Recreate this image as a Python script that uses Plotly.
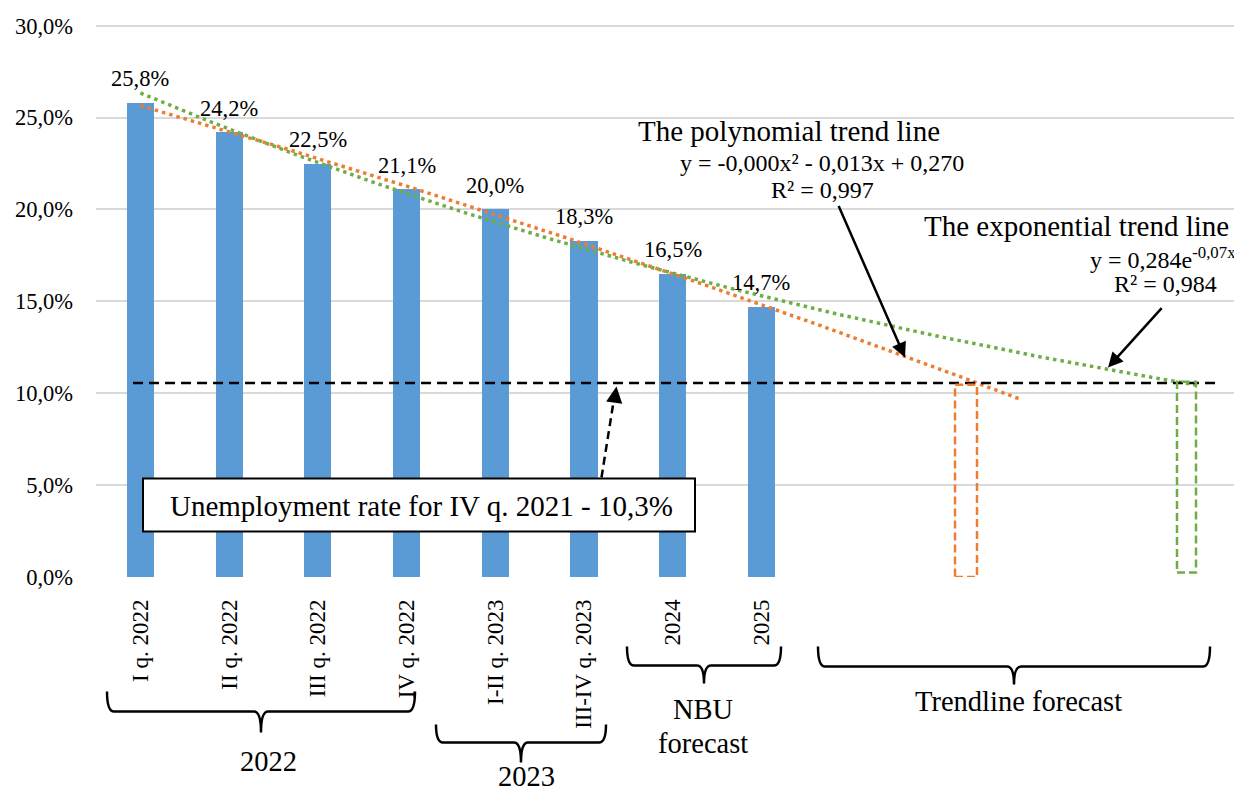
import numpy as np
import plotly.graph_objects as go

# ---------------- data ----------------
categories = ["I q. 2022", "II q. 2022", "III q. 2022", "IV q. 2022",
              "I-II q. 2023", "III-IV q. 2023", "2024", "2025"]
unemployment = [25.8, 24.2, 22.5, 21.1, 20.0, 18.3, 16.5, 14.7]
y_ticks = [0, 5, 10, 15, 20, 25, 30]
y_tick_labels = ["0,0%", "5,0%", "10,0%", "15,0%", "20,0%", "25,0%", "30,0%"]

baseline_level = 10.55          # dashed reference line (IV q. 2021 level as drawn)
poly_end_x = 10.94               # Excel x where polynomial trendline forecast ends
exp_end_x = 12.93                # Excel x where exponential trendline forecast ends
forecast_pos = [9.305, 11.79]    # dashed forecast bars (category index units)
forecast_top = [10.46, 10.62]
forecast_bottom = [0.0, 0.24]
forecast_width = [0.248, 0.214]
forecast_colors = ["#ED7D31", "#70AD47"]

FONT = "Liberation Serif"
BLUE, ORANGE, GREEN = "#5B9BD5", "#ED7D31", "#70AD47"

# ---------------- geometry helpers (screen pixel -> paper) ----------------
OFF = 8                      # page body margin
Y_MAX = 30.2
L, R, B = 96, 1240, 577.5
PX_PER_UNIT = (577.5 - 26) / 30
T = B - Y_MAX * PX_PER_UNIT
SW, SH = 1242, 794
W, H = SW - OFF, SH - OFF


def px(x):
    return (x - L) / (R - L)


def py(y):
    return (B - y) / (B - T)


def fmt(v):
    return f"{v:.1f}".replace(".", ",") + "%"


fig = go.Figure()

idx = list(range(len(categories)))
fig.add_trace(go.Bar(x=idx, y=unemployment, width=0.305, marker_color=BLUE,
                     marker_line_width=0, showlegend=False, hoverinfo="skip"))

# trendlines (fitted like Excel: x = 1..n)
xs = np.arange(1, len(unemployment) + 1)
vals = np.array(unemployment)
pc = np.polyfit(xs, vals, 2)
xp = np.linspace(1, poly_end_x, 200)
fig.add_trace(go.Scatter(x=xp - 1, y=np.polyval(pc, xp), mode="lines",
                         line=dict(color=ORANGE, width=3.5, dash="3.5px,4px"),
                         showlegend=False, hoverinfo="skip"))
ec = np.polyfit(xs, np.log(vals), 1)
xe = np.linspace(1, exp_end_x, 200)
fig.add_trace(go.Scatter(x=xe - 1, y=np.exp(np.polyval(ec, xe)), mode="lines",
                         line=dict(color=GREEN, width=3.5, dash="3.5px,4px"),
                         showlegend=False, hoverinfo="skip"))

shapes = []
annotations = []

# data labels
for i, v in enumerate(unemployment):
    annotations.append(dict(x=i, y=v, xref="x", yref="y", text=fmt(v), showarrow=False,
                            xanchor="center", yanchor="middle",
                            yshift=24, font=dict(family=FONT, size=22.5, color="black")))

# dashed horizontal reference line
shapes.append(dict(type="line", xref="x", yref="y", x0=-0.083, x1=12.145,
                   y0=baseline_level, y1=baseline_level,
                   line=dict(color="black", width=2.5, dash="10px,6px")))

# dashed forecast bars
for p, t, b, w, c in zip(forecast_pos, forecast_top, forecast_bottom, forecast_width, forecast_colors):
    shapes.append(dict(type="rect", xref="x", yref="y", x0=p - w / 2, x1=p + w / 2, y0=b, y1=t,
                       line=dict(color=c, width=2.5, dash="8px,4px"), fillcolor="rgba(0,0,0,0)"))

# unemployment box
shapes.append(dict(type="rect", xref="paper", yref="paper", x0=px(143), x1=px(695),
                   y0=py(532), y1=py(479), line=dict(color="black", width=2), fillcolor="white",
                   layer="above"))
annotations.append(dict(x=px(421), y=py(506), text="Unemployment rate for IV q. 2021 - 10,3%",
                        size=29, anchor="center"))
# trendline captions
annotations += [
    dict(x=px(789), y=py(131), text="The polynomial trend line", size=29, anchor="center"),
    dict(x=px(822), y=py(163), text="y = -0,000x² - 0,013x + 0,270", size=24, anchor="center"),
    dict(x=px(822), y=py(190), text="R² = 0,997", size=24, anchor="center"),
    dict(x=px(1076), y=py(226), text="The exponential trend line", size=29, anchor="center"),
    dict(x=px(1238), y=py(258), text="y = 0,284e<sup>-0,07x</sup>", size=24, anchor="right"),
    dict(x=px(1165), y=py(284), text="R² = 0,984", size=24, anchor="center"),
]
for a in annotations[-7:]:
    a.update(xref="paper", yref="paper", showarrow=False, xanchor=a.pop("anchor"),
             yanchor="middle", font=dict(family=FONT, size=a.pop("size"), color="black"))

# dashed arrow to reference line
shapes.append(dict(type="line", xref="paper", yref="paper", x0=px(601.5), y0=py(478),
                   x1=px(614.5), y1=py(396), line=dict(color="black", width=2.5, dash="8px,5px")))
annotations.append(dict(x=px(616.5), y=py(387), xref="paper", yref="paper", ax=-2, ay=14,
                        text="", showarrow=True,
                        arrowhead=2, arrowsize=1.3, arrowwidth=2.5, arrowcolor="black"))

# solid arrows
annotations.append(dict(x=px(905), y=py(358), xref="paper", yref="paper", ax=-67, ay=-153,
                        text="", showarrow=True, arrowhead=2, arrowsize=1.2, arrowwidth=2.5,
                        arrowcolor="black"))
annotations.append(dict(x=px(1108), y=py(368), xref="paper", yref="paper", ax=55, ay=-61,
                        text="", showarrow=True, arrowhead=2, arrowsize=1.2, arrowwidth=2.5,
                        arrowcolor="black"))


# brackets
def bracket(x0, x1, ytop, yh, ytip, r=7):
    xm = (x0 + x1) / 2
    pts = [("M", x0, ytop), ("Q", x0, yh, x0 + r, yh), ("L", xm - r, yh),
           ("Q", xm, yh, xm, ytip), ("Q", xm, yh, xm + r, yh), ("L", x1 - r, yh),
           ("Q", x1, yh, x1, ytop)]
    s = ""
    for p in pts:
        cmd = p[0]
        coords = p[1:]
        parts = []
        for j in range(0, len(coords), 2):
            parts.append(f"{px(coords[j]):.5f},{py(coords[j + 1]):.5f}")
        s += cmd + " " + " ".join(parts) + " "
    return dict(type="path", xref="paper", yref="paper", path=s.strip(),
                line=dict(color="black", width=2.5))


shapes.append(bracket(107, 415, 692, 712, 733))
shapes.append(bracket(436, 606, 725, 743, 763))
shapes.append(bracket(627, 781, 647, 666, 684))
shapes.append(bracket(818, 1210, 647, 667, 685))

for x, y, t in [(268, 762, "2022"), (526, 777, "2023"), (703, 710, "NBU"),
                (703, 744, "forecast"), (1018, 702, "Trendline forecast")]:
    annotations.append(dict(x=px(x), y=py(y), xref="paper", yref="paper", text=t,
                            xanchor="center", yanchor="middle",
                            showarrow=False, font=dict(family=FONT, size=28.5, color="black")))

fig.update_layout(
    width=W, height=H,
    margin=dict(l=L - OFF, r=SW - R, t=T - OFF, b=SH - B, pad=0, autoexpand=False),
    plot_bgcolor="white", paper_bgcolor="white",
    shapes=shapes, annotations=annotations,
    font=dict(family=FONT, color="black"),
    bargap=0,
)
fig.update_xaxes(range=[-0.5, 12.393], tickmode="array", tickvals=idx, ticktext=categories,
                 tickangle=-90, showgrid=False, zeroline=False, showline=False, ticks="",
                 ticklabelstandoff=17, tickfont=dict(family=FONT, size=23, color="black"),
                 fixedrange=True, automargin=False)
fig.update_yaxes(range=[0, Y_MAX], tickmode="array", tickvals=y_ticks, ticktext=y_tick_labels,
                 showgrid=True, gridcolor="#D9D9D9", gridwidth=1.5, zeroline=False,
                 showline=False, ticks="", ticklabelstandoff=22,
                 tickfont=dict(family=FONT, size=22.5, color="black"), fixedrange=True,
                 automargin=False)

fig.write_html("out.html")
